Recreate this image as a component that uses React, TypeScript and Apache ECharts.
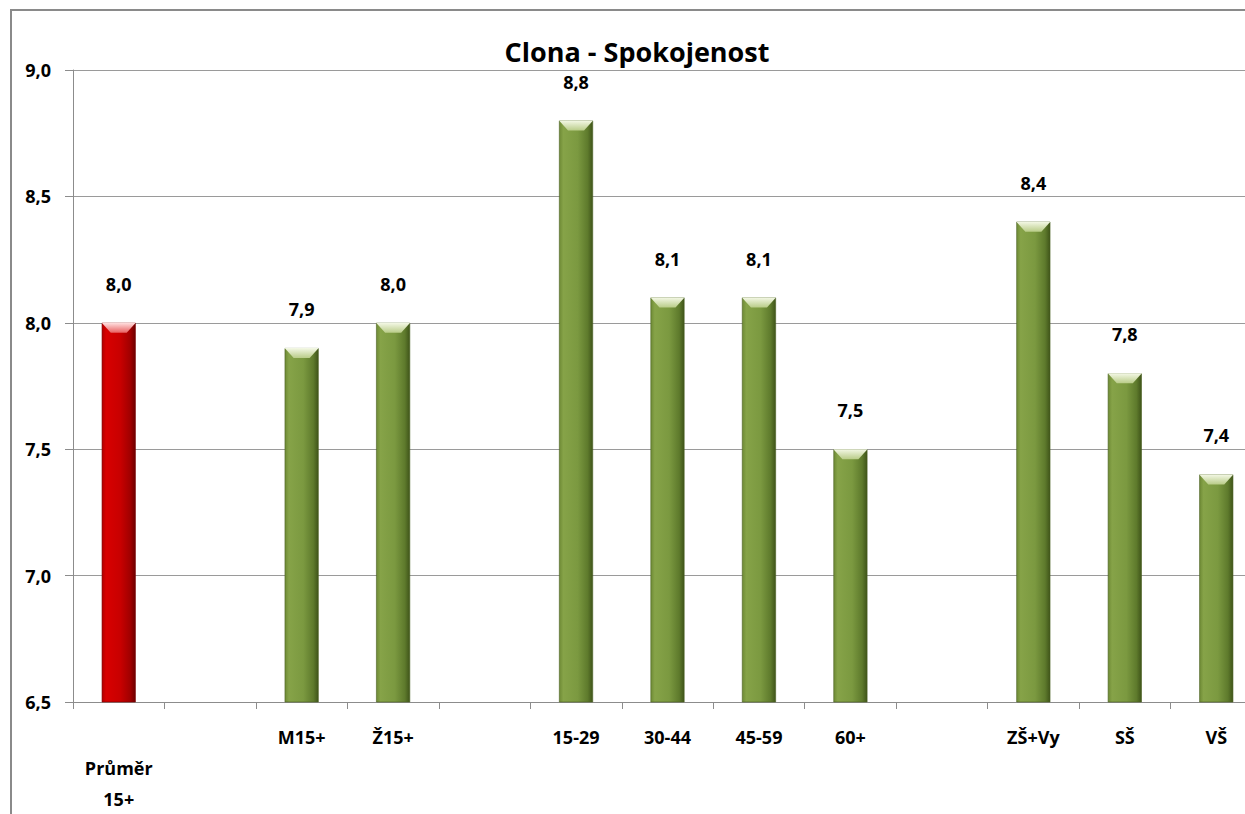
import React, { useEffect, useRef } from "react";
import * as echarts from "echarts";

const categories = ["Průměr 15+", "", "M15+", "Ž15+", "", "15-29", "30-44", "45-59", "60+", "", "ZŠ+Vy", "SŠ", "VŠ"];
const values: (number | null)[] = [8.0, null, 7.9, 8.0, null, 8.8, 8.1, 8.1, 7.5, null, 8.4, 7.8, 7.4];
const yTicks = [6.5, 7.0, 7.5, 8.0, 8.5, 9.0];
const title = "Clona - Spokojenost";

const FONT = "'Open Sans', 'Noto Sans', sans-serif";

function grad(stops: string[]) {
  return new echarts.graphic.LinearGradient(0, 0, 1, 0, [
    { offset: 0, color: stops[0] },
    { offset: 0.12, color: stops[1] },
    { offset: 0.55, color: stops[2] },
    { offset: 0.85, color: stops[3] },
    { offset: 1, color: stops[4] },
  ]);
}

const TOP_CAP = "path://M0,0 L34,0 L25,9 L9,9 Z";
const BOT_CAP = "path://M9,0 L25,0 L34,9 L0,9 Z";

export default function App() {
  const ref = useRef<HTMLDivElement>(null);
  useEffect(() => {
    document.body.style.margin = "0";
    document.body.style.overflow = "hidden";
    document.documentElement.style.overflow = "hidden";
    const chart = echarts.init(ref.current!, null, { renderer: "svg" });
    const green = grad(["#6E8A35", "#86A348", "#7B9940", "#5E7A2C", "#3F5419"]);
    const red = grad(["#B00000", "#D80000", "#C80000", "#A00000", "#6E0000"]);
    const topCapGreen = new echarts.graphic.LinearGradient(0, 0, 0, 1, [
      { offset: 0, color: "#F4F8E6" },
      { offset: 1, color: "#B9CC88" },
    ]);
    const topCapRed = new echarts.graphic.LinearGradient(0, 0, 0, 1, [
      { offset: 0, color: "#FFE0E0" },
      { offset: 1, color: "#E86060" },
    ]);
    const capData = (isTop: boolean) =>
      values.map((v, i) =>
        v == null
          ? null
          : {
              value: v,
              itemStyle: {
                color: isTop
                  ? i === 0
                    ? topCapRed
                    : topCapGreen
                  : i === 0
                  ? "rgba(230,120,120,0.75)"
                  : "rgba(160,185,110,0.75)",
              },
            }
      );
    chart.setOption({
      animation: false,
      backgroundColor: "#ffffff",
      graphic: [
        {
          type: "rect",
          shape: { x: 11, y: 10, width: 1400, height: 1000 },
          style: { fill: "none", stroke: "#8a8a8a", lineWidth: 2 },
          silent: true,
          z: 100,
        },
        {
          type: "text",
          x: 637,
          y: 51,
          style: {
            text: title,
            fontFamily: FONT,
            fontWeight: "bold",
            fontSize: 27,
            fill: "#000",
            align: "center",
            verticalAlign: "middle",
          },
          silent: true,
          z: 100,
        },
      ],
      grid: { left: 73, top: 70, bottom: 112, right: -17, containLabel: false, outerBoundsMode: "none" },
      xAxis: {
        type: "category",
        data: categories,
        axisLine: { lineStyle: { color: "#8c8c8c", width: 1 } },
        axisTick: { show: true, length: 7, lineStyle: { color: "#8c8c8c" } },
        axisLabel: {
          interval: 0,
          margin: 19,
          fontFamily: FONT,
          fontWeight: "bold",
          fontSize: 18,
          color: "#000",
          lineHeight: 31,
          formatter: (v: string) => (v === "Průměr 15+" ? "\nPrůměr\n15+" : v),
        },
      },
      yAxis: {
        type: "value",
        min: yTicks[0],
        max: yTicks[yTicks.length - 1],
        interval: 0.5,
        axisLine: { show: true, lineStyle: { color: "#8c8c8c", width: 1 } },
        axisTick: { show: true, length: 8, lineStyle: { color: "#8c8c8c" } },
        splitLine: { lineStyle: { color: "#9a9a9a", width: 1 } },
        axisLabel: {
          margin: 22,
          fontFamily: FONT,
          fontWeight: "bold",
          fontSize: 18,
          color: "#000",
          formatter: (v: number) => v.toFixed(1).replace(".", ","),
        },
      },
      series: [
        {
          type: "bar",
          barWidth: 34,
          data: values.map((v, i) =>
            v == null
              ? null
              : {
                  value: v,
                  itemStyle: { color: i === 0 ? red : green, borderColor: i === 0 ? "#7a0000" : "#4a5f22", borderWidth: 0.6 },
                }
          ),
          label: {
            show: true,
            position: "top",
            distance: 30,
            fontFamily: FONT,
            fontWeight: "bold",
            fontSize: 18,
            color: "#000",
            formatter: (p: any) => Number(p.value).toFixed(1).replace(".", ","),
          },
        },
        {
          type: "pictorialBar",
          symbol: TOP_CAP,
          symbolSize: [34, 10],
          symbolPosition: "end",
          z: 5,
          silent: true,
          data: capData(true),
        },
        {
          type: "pictorialBar",
          symbol: BOT_CAP,
          symbolSize: [34, 10],
          symbolPosition: "start",
          z: 5,
          silent: true,
          data: capData(false),
        },
      ],
    });
    return () => chart.dispose();
  }, []);
  return <div ref={ref} style={{ position: "absolute", left: 0, top: 0, width: 1245, height: 814 }} />;
}
